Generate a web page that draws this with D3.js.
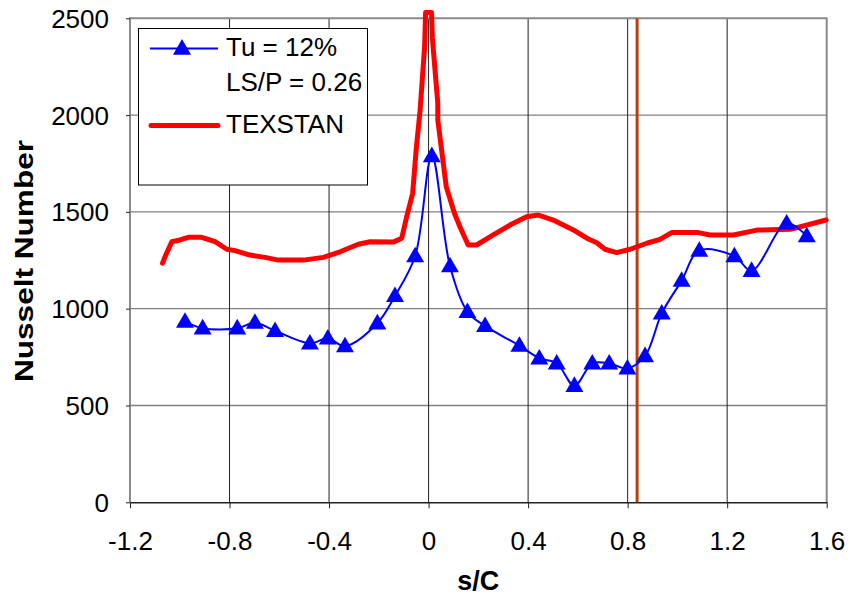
<!DOCTYPE html>
<html>
<head>
<meta charset="utf-8">
<script src="https://cdn.jsdelivr.net/npm/d3@7"></script>
<style>
  html, body { margin: 0; padding: 0; background: #fff; }
  svg { display: block; font-family: "Liberation Sans", Arial, sans-serif; }
</style>
</head>
<body>
<svg id="chart" width="849" height="596"></svg>
<script>
// Measured heat transfer, Tu = 12%, LS/P = 0.26
const measS  = [-0.979, -0.908, -0.769, -0.698, -0.617, -0.477, -0.405, -0.336, -0.206, -0.135,
                -0.054, 0.013, 0.086, 0.156, 0.227, 0.365, 0.445, 0.515, 0.586, 0.658,
                0.726, 0.799, 0.870, 0.937, 1.017, 1.088, 1.229, 1.298, 1.439, 1.520];
const measNu = [933, 899, 899, 928, 886, 821, 847, 807, 925, 1066,
                1272, 1789, 1220, 984, 911, 809, 744, 718, 602, 718,
                718, 692, 756, 976, 1145, 1300, 1272, 1196, 1441, 1375];

// TEXSTAN prediction
const texS  = [-1.069, -1.059, -1.032, -0.999, -0.966, -0.912, -0.858, -0.811, -0.778, -0.718,
               -0.657, -0.604, -0.503, -0.423, -0.356, -0.282, -0.235, -0.142, -0.108, -0.088,
               -0.064, -0.050, -0.034, -0.016, -0.012, 0.012, 0.015, 0.037, 0.037, 0.071,
               0.104, 0.126, 0.159, 0.193, 0.260, 0.327, 0.394, 0.441, 0.501, 0.582,
               0.636, 0.676, 0.709, 0.756, 0.810, 0.877, 0.930, 0.977, 1.084, 1.131,
               1.225, 1.319, 1.453, 1.598];
const texNu = [1235, 1269, 1346, 1355, 1369, 1369, 1346, 1307, 1300, 1277,
               1265, 1251, 1251, 1265, 1294, 1333, 1346, 1344, 1364, 1475,
               1596, 1820, 2026, 2353, 2530, 2530, 2400, 2062, 1975, 1630,
               1493, 1423, 1329, 1329, 1381, 1432, 1475, 1484, 1458, 1407,
               1364, 1341, 1307, 1290, 1307, 1338, 1358, 1393, 1393, 1381,
               1381, 1406, 1410, 1458];

// Trailing-edge marker position
const markerS = [0.838];

const xTicks = [-1.2, -0.8, -0.4, 0, 0.4, 0.8, 1.2, 1.6];
const yTicks = [0, 500, 1000, 1500, 2000, 2500];

const svg = d3.select("#chart");
const L = 130, R = 826.7, T = 18.3, B = 502.3;

const x = d3.scaleLinear().domain([-1.2, 1.6]).range([L, R]);
const y = d3.scaleLinear().domain([0, 2500]).range([B, T]);

// Gridlines
svg.append("g").selectAll("line").data(yTicks.filter(d => d > 0 && d < 2500)).join("line")
  .attr("x1", L).attr("x2", R).attr("y1", d => y(d)).attr("y2", d => y(d))
  .attr("stroke", "#808080").attr("stroke-width", 1.3);
svg.append("g").selectAll("line").data(xTicks.filter(d => d > -1.2 && d < 1.6)).join("line")
  .attr("x1", d => x(d)).attr("x2", d => x(d)).attr("y1", T).attr("y2", B)
  .attr("stroke", "#222").attr("stroke-width", 1);

// Plot frame (top, left, right)
svg.append("path")
  .attr("d", `M${L},${B} V${T} H${R} V${B}`)
  .attr("fill", "none").attr("stroke", "#8a8a8a").attr("stroke-width", 2);

// Axes
const xAxis = svg.append("g").attr("transform", `translate(0,${B})`)
  .call(d3.axisBottom(x).tickValues(xTicks).tickSize(6).tickSizeOuter(0)
        .tickFormat(d => d === 0 ? "0" : d3.format(".1f")(d).replace("−", "-")));
xAxis.select(".domain").attr("stroke", "#222").attr("stroke-width", 1.6);
xAxis.selectAll(".tick line").attr("stroke", "#222");
xAxis.selectAll(".tick text").attr("font-size", 26).attr("fill", "#000")
  .attr("font-family", "Liberation Sans, Arial, sans-serif").attr("y", 0).attr("dy", 48);

const yAxis = svg.append("g").attr("transform", `translate(${L},0)`)
  .call(d3.axisLeft(y).tickValues(yTicks).tickSize(4).tickSizeOuter(0).tickFormat(d3.format("d")));
yAxis.select(".domain").remove();
yAxis.selectAll(".tick line").attr("stroke", "#222");
yAxis.selectAll(".tick text").attr("font-size", 26).attr("fill", "#000")
  .attr("font-family", "Liberation Sans, Arial, sans-serif").attr("x", -21).attr("dy", 9);

// Axis titles
svg.append("text").attr("x", x(0.2)).attr("y", 590).attr("text-anchor", "middle")
  .attr("font-size", 27).attr("font-weight", "bold").text("s/C");
svg.append("text").attr("transform", "translate(33,261) rotate(-90)").attr("text-anchor", "middle")
  .attr("font-size", 26).attr("font-weight", "bold")
  .attr("textLength", 242).attr("lengthAdjust", "spacingAndGlyphs").text("Nusselt Number");

// Vertical marker line
svg.append("g").selectAll("line").data(markerS).join("line")
  .attr("x1", d => x(d)).attr("x2", d => x(d)).attr("y1", T).attr("y2", B)
  .attr("stroke", "#b4420c").attr("stroke-width", 3);

// TEXSTAN curve
const texData = texS.map((s, i) => [s, texNu[i]]);
svg.append("path").datum(texData)
  .attr("d", d3.line().x(d => x(d[0])).y(d => y(d[1])))
  .attr("fill", "none").attr("stroke", "#ff0000").attr("stroke-width", 5)
  .attr("stroke-linejoin", "round").attr("stroke-linecap", "round");

// Measured curve with triangle markers
const measData = measS.map((s, i) => [s, measNu[i]]);
svg.append("path").datum(measData)
  .attr("d", d3.line().x(d => x(d[0])).y(d => y(d[1])).curve(d3.curveCatmullRom.alpha(0.5)))
  .attr("fill", "none").attr("stroke", "#0000ff").attr("stroke-width", 2);

const tri = d3.symbol().type(d3.symbolTriangle).size(140);
svg.append("g").selectAll("path").data(measData).join("path")
  .attr("transform", d => `translate(${x(d[0])},${y(d[1]) + 1})`)
  .attr("d", tri).attr("fill", "#0000ff");

// Legend
const lg = svg.append("g");
lg.append("rect").attr("x", 138.5).attr("y", 28.5).attr("width", 229).attr("height", 156.5)
  .attr("fill", "#fff").attr("stroke", "#000").attr("stroke-width", 1);
lg.append("line").attr("x1", 150).attr("x2", 218).attr("y1", 48.5).attr("y2", 48.5)
  .attr("stroke", "#0000ff").attr("stroke-width", 2);
lg.append("path").attr("transform", "translate(182,49.5)").attr("d", tri).attr("fill", "#0000ff");
lg.append("line").attr("x1", 151).attr("x2", 218).attr("y1", 125.5).attr("y2", 125.5)
  .attr("stroke", "#ff0000").attr("stroke-width", 5).attr("stroke-linecap", "round");
const legTxt = [["Tu = 12%", 56], ["LS/P = 0.26", 91], ["TEXSTAN", 133]];
lg.selectAll("text").data(legTxt).join("text")
  .attr("x", 226).attr("y", d => d[1]).attr("font-size", 26).text(d => d[0]);
</script>
</body>
</html>
